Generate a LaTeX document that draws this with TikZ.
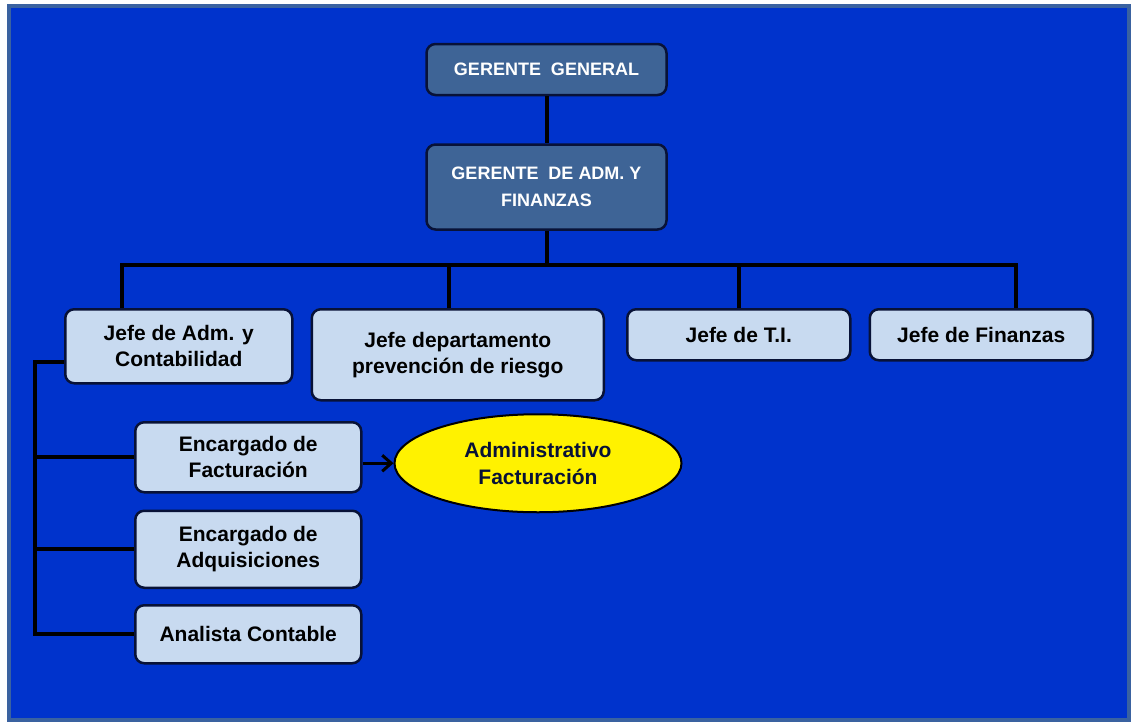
\documentclass[tikz,border=0pt]{standalone}
\usepackage{fontspec}
\setmainfont{Liberation Sans}
\usetikzlibrary{positioning,shapes.geometric,arrows.meta,calc}
\definecolor{fondo}{RGB}{0,51,204}
\definecolor{marco}{RGB}{58,98,160}
\definecolor{oscuro}{RGB}{62,100,150}
\definecolor{claro}{RGB}{200,218,240}
\definecolor{borde}{RGB}{8,18,55}

\begin{document}
\begin{tikzpicture}[x=1pt, y=-1pt,
						gerente/.style={rectangle, rounded corners=9pt, draw=borde, line width=2.5pt,
							fill=oscuro, text=white, minimum width=240pt, align=center,
							font=\fontsize{18}{27}\selectfont\bfseries},
						jefe/.style={rectangle, rounded corners=9pt, draw=borde, line width=2.5pt,
							fill=claro, text=black, align=center,
							font=\fontsize{21}{26}\selectfont\bfseries},
						cargo/.style={jefe, minimum width=226pt},
						ovalo/.style={ellipse, draw=black, line width=2pt, fill=yellow,
							minimum width=287pt, minimum height=98pt, align=center, text=borde,
							font=\fontsize{21}{27}\selectfont\bfseries},
						linea/.style={line width=4pt, black},
						flecha/.style={line width=3pt, black, -{Straight Barb[length=9pt,width=16pt]}}
						]
						\useasboundingbox (0,0) rectangle (1136,723);
						\fill[white] (0,0) rectangle (1136,723);
						\draw[marco, line width=4pt, fill=fondo] (9,6) rectangle (1129,720);
						% gerencia
						\node[gerente, minimum height=51pt] (gg) at (546.5,69.5) {GERENTE~~GENERAL};
						\node[gerente, minimum height=85pt, below=47pt of gg] (gaf) {GERENTE~~DE ADM. Y\\FINANZAS};
						% jefaturas
						\node[jefe, minimum width=227pt, minimum height=74pt, anchor=north west] (ja) at (64,308) {Jefe de Adm. y\\Contabilidad};
						\node[jefe, minimum width=292pt, minimum height=91pt, anchor=north west] (jd) at ([xshift=17pt]ja.north east) {Jefe departamento\\prevención de riesgo};
						\node[jefe, minimum width=223pt, minimum height=51pt, anchor=north west] (jt) at ([xshift=21pt]jd.north east) {Jefe de T.I.};
						\node[jefe, minimum width=223pt, minimum height=51pt, anchor=north west] (jf) at ([xshift=17pt]jt.north east) {Jefe de Finanzas};
						% cargos bajo contabilidad
						\node[cargo, minimum height=70pt, anchor=north west] (ef) at (134,421) {Encargado de\\Facturación};
						\node[cargo, minimum height=77pt, below=16pt of ef] (ea) {Encargado de\\Adquisiciones};
						\node[cargo, minimum height=58pt, below=15pt of ea] (ac) {Analista Contable};
						\node[ovalo, right=31pt of ef, yshift=-6pt] (adm) {Administrativo\\Facturación};
						% lineas
						\coordinate (bus) at (546.5,265);
						\coordinate (lbus) at (35,362);
						\draw[linea] (gg) -- (gaf);
						\draw[linea] (gaf) -- (bus);
						\draw[linea] ([xshift=-57pt]ja.north) |- (bus) -| ([xshift=35pt]jf.north);
						\draw[linea] ([xshift=-9pt]jd.north) -- ++(0,-42);
						\draw[linea] (jt.north) -- ++(0,-42);
						\draw[linea] (ja.west |- lbus) -- (lbus) |- (ac.west);
						\draw[linea] (lbus |- ef.west) -- (ef.west);
						\draw[linea] (lbus |- ea.west) -- (ea.west);
						\draw[flecha] (ef.east |- adm.west) -- (adm.west);
					\end{tikzpicture}
\end{document}
